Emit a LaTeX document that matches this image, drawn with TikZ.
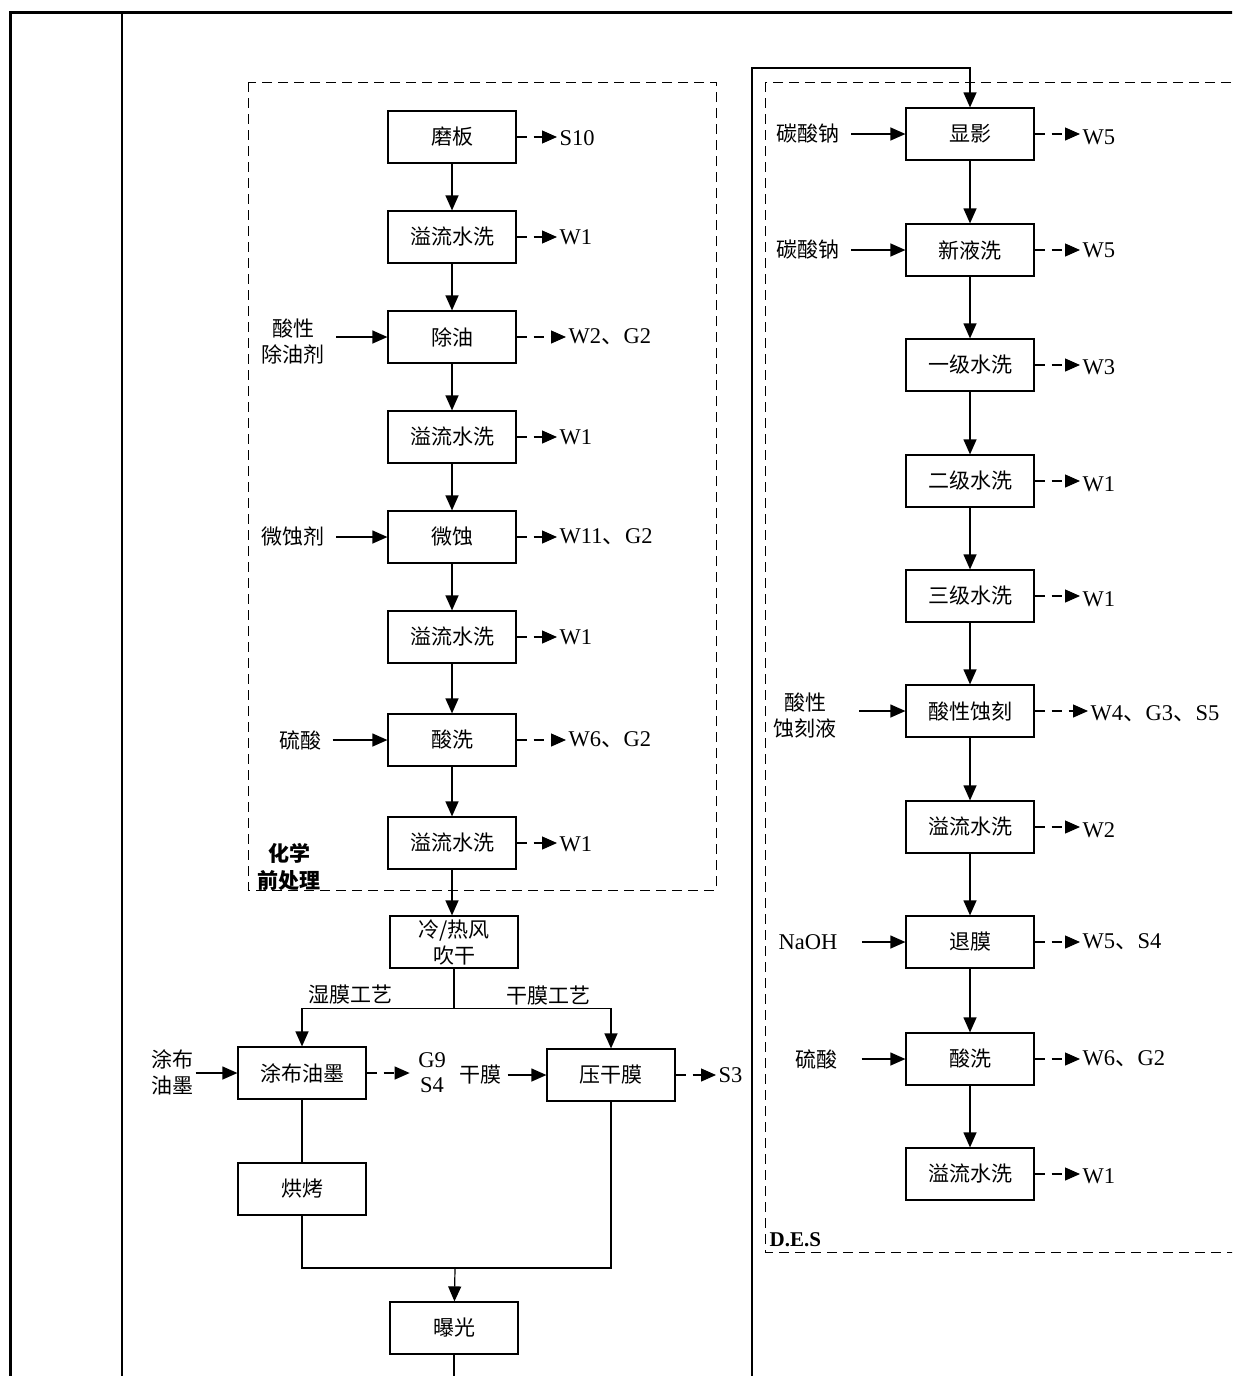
\documentclass[tikz,border=0pt]{standalone}
\usepackage{fontspec}
\setmainfont{Liberation Serif}
\newfontfamily\cjk{Noto Sans CJK SC}
\usetikzlibrary{arrows.meta}

\begin{document}
\begin{tikzpicture}[x=1pt,y=-1pt,line width=1.2pt,
  font=\fontsize{22.5}{25}\selectfont,
  box/.style={draw,minimum width=128pt,minimum height=52pt,inner sep=1pt,align=center,font=\fontsize{21}{26}\selectfont\cjk},
  lab/.style={inner sep=2pt,align=center},
  zh/.style={lab,font=\fontsize{21}{26}\selectfont\cjk},
  flow/.style={-{Triangle[length=15pt,width=13pt]}},
  inarr/.style={flow,shorten <=9pt},
  outarr/.style={flow,dash pattern=on 10pt off 7pt},
  grp/.style={draw,dash pattern=on 10pt off 6pt,line width=1pt}]
\useasboundingbox (0,0) rectangle (1232,1376);
\clip (0,0) rectangle (1232,1376);
% frame
\draw[line width=3pt] (10,1390) -- (10,12) -- (1250,12);
\draw (122,12) -- (122,1390);
\draw[grp] (248,82) rectangle (716,890);
\draw[grp] (765,82) rectangle (1260,1252);
\node[zh,font=\fontsize{21}{27}\selectfont\cjk\bfseries] at (289,867) {化学\\前处理};
\node[lab,anchor=west,font=\fontsize{21}{26}\selectfont\bfseries] at (767,1240) {D.E.S};

% chemical pre-treatment
\node[box] (mb) at (452,137) {磨板};
\node[box] (xs1) at (452,237) {溢流水洗};
\node[box] (cy) at (452,337) {除油};
\node[box] (xs2) at (452,437) {溢流水洗};
\node[box] (ws) at (452,537) {微蚀};
\node[box] (xs3) at (452,637) {溢流水洗};
\node[box] (sx1) at (452,740) {酸洗};
\node[box] (xs4) at (452,843) {溢流水洗};
\node[box] (cf) at (454,942) {冷/热风\\吹干};
\foreach \a/\b in {mb/xs1,xs1/cy,cy/xs2,xs2/ws,ws/xs3,xs3/sx1,sx1/xs4}
  \draw[flow] (\a) -- (\b);
\draw[flow] (xs4.south) -- (xs4.south |- cf.north);

\node[zh] (in1) at (293,342) {酸性\\除油剂};
\node[zh] (in2) at (293,537) {微蚀剂};
\node[zh] (in3) at (300,740) {硫酸};
\draw[inarr] (in1.east |- cy.west) -- (cy.west);
\draw[inarr] (in2.east) -- (ws.west);
\draw[inarr] (in3.east) -- (sx1.west);

\node[lab,anchor=west] (o1) at (557,138) {S10};
\node[lab,anchor=west] (o2) at (557,237) {W1};
\node[lab,anchor=west] (o3) at (566,337) {W2{\cjk 、}G2};
\node[lab,anchor=west] (o4) at (557,437) {W1};
\node[lab,anchor=west] (o5) at (557,537) {W11{\cjk 、}G2};
\node[lab,anchor=west] (o6) at (557,637) {W1};
\node[lab,anchor=west] (o7) at (566,740) {W6{\cjk 、}G2};
\node[lab,anchor=west] (o8) at (557,844) {W1};
\foreach \a/\b in {mb/o1,xs1/o2,cy/o3,xs2/o4,ws/o5,xs3/o6,sx1/o7,xs4/o8}
  \draw[outarr] (\a.east) -- (\a.east -| \b.west);

% wet / dry film
\draw (cf.south) -- ++(0,40) coordinate (br);
\node[box] (tb) at (302,1073) {涂布油墨};
\node[box] (yg) at (611,1075) {压干膜};
\node[box] (hk) at (302,1189) {烘烤};
\node[box] (bg) at (454,1328) {曝光};
\draw[flow] (br) -| (tb);
\draw[flow] (br) -| (yg);
\node[zh] at (350,995) {湿膜工艺};
\node[zh] at (548,996) {干膜工艺};
\node[zh] (tbin) at (172,1072) {涂布\\油墨};
\draw[flow] (tbin.east |- tb.west) -- (tb.west);
\node[lab] (gs) at (432,1073) {G9\\S4};
\draw[outarr,shorten >=6pt] (tb.east) -- (gs.west |- tb.east);
\node[zh] (gm) at (480,1075) {干膜};
\draw[inarr,shorten <=4pt] (gm.east) -- (yg.west);
\node[lab,anchor=west] (s3) at (716,1075) {S3};
\draw[outarr] (yg.east) -- (s3.west);
\draw (tb) -- (hk);
\coordinate (mg) at (455,1268);
\draw (hk.south) |- (mg) -| (yg.south);
\draw[flow] (mg) -- (bg);
\coordinate (bot1) at (457,1390);
\draw (bg.south) -- (bg.south |- bot1);

% D.E.S line
\node[box] (xy) at (970,134) {显影};
\node[box] (xyx) at (970,250) {新液洗};
\node[box] (sx2a) at (970,365) {一级水洗};
\node[box] (sx2b) at (970,481) {二级水洗};
\node[box] (sx2c) at (970,596) {三级水洗};
\node[box] (sk) at (970,711) {酸性蚀刻};
\node[box] (xs5) at (970,827) {溢流水洗};
\node[box] (tm) at (970,942) {退膜};
\node[box] (sx3) at (970,1059) {酸洗};
\node[box] (xs6) at (970,1174) {溢流水洗};
\foreach \a/\b in {xy/xyx,xyx/sx2a,sx2a/sx2b,sx2b/sx2c,sx2c/sk,sk/xs5,xs5/tm,tm/sx3,sx3/xs6}
  \draw[flow] (\a) -- (\b);
\coordinate (bot2) at (752,1390);
\coordinate (top) at (752,68);
\draw[flow] (bot2) -- (top) -| (xy);

\node[zh] (r1) at (808,134) {碳酸钠};
\node[zh] (r2) at (808,250) {碳酸钠};
\node[zh] (r3) at (805,716) {酸性\\蚀刻液};
\node[lab] (r4) at (808,942) {NaOH};
\node[zh] (r5) at (816,1059) {硫酸};
\draw[inarr] (r1.east) -- (xy.west);
\draw[inarr] (r2.east) -- (xyx.west);
\draw[inarr,shorten <=20pt] (r3.east |- sk.west) -- (sk.west);
\draw[inarr,shorten <=22pt] (r4.east) -- (tm.west);
\draw[inarr,shorten <=22pt] (r5.east) -- (sx3.west);

\node[lab,anchor=west] (p1) at (1080,137) {W5};
\node[lab,anchor=west] (p2) at (1080,250) {W5};
\node[lab,anchor=west] (p3) at (1080,367) {W3};
\node[lab,anchor=west] (p4) at (1080,484) {W1};
\node[lab,anchor=west] (p5) at (1080,599) {W1};
\node[lab,anchor=west] (p6) at (1088,714) {W4{\cjk 、}G3{\cjk 、}S5};
\node[lab,anchor=west] (p7) at (1080,830) {W2};
\node[lab,anchor=west] (p8) at (1080,942) {W5{\cjk 、}S4};
\node[lab,anchor=west] (p9) at (1080,1059) {W6{\cjk 、}G2};
\node[lab,anchor=west] (p10) at (1080,1176) {W1};
\foreach \a/\b in {xy/p1,xyx/p2,sx2a/p3,sx2b/p4,sx2c/p5,sk/p6,xs5/p7,tm/p8,sx3/p9,xs6/p10}
  \draw[outarr] (\a.east) -- (\a.east -| \b.west);
\end{tikzpicture}
\end{document}
